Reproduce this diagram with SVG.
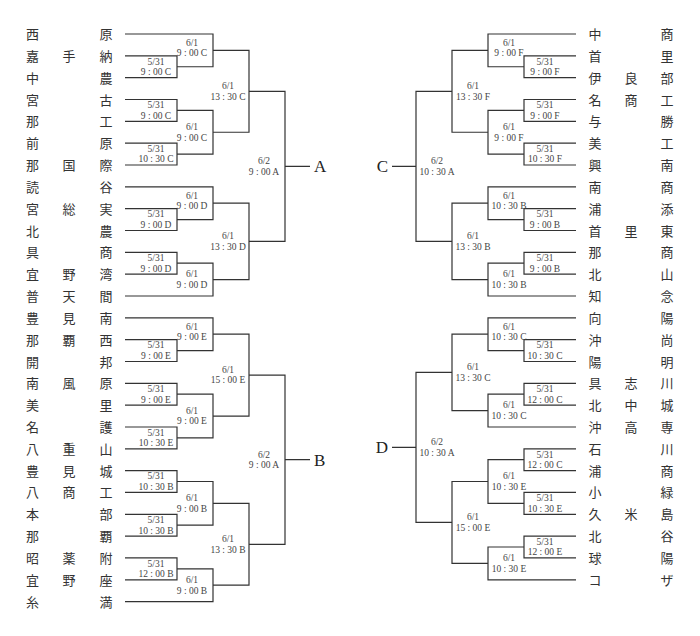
<svg xmlns="http://www.w3.org/2000/svg" width="700" height="636" viewBox="0 0 700 636">
<style>
.bg{fill:#fff}
.ln{fill:none;stroke:#333;stroke-width:1.2}
.nm{font-family:"Noto Sans CJK JP","Noto Sans CJK SC",sans-serif;font-size:13px;fill:#333;text-anchor:middle}
.lb{font-family:"Liberation Serif",serif;font-size:9.5px;fill:#444;text-anchor:middle}
.bk{font-family:"Liberation Serif",serif;font-size:17px;fill:#222}
</style>
<rect class="bg" x="0" y="0" width="700" height="636"/>
<g id="connectors" class="ln">
<path d="M125 55.8H177V77.7H125M125 99.5H177V121.3H125M125 143.2H177V165H125M125 34H213V66.75H177M177 110.4H213V154.1H177M213 50.4H249V132.25H213"/>
<path d="M125 208.6H177V230.5H125M125 252.3H177V274.1H125M125 186.8H213V219.55H177M177 263.2H213V296H125M213 203.2H249V279.6H213"/>
<path d="M249 91.3H285V241.4H249M285 166.35H310"/>
<path d="M125 339.6H177V361.5H125M125 383.3H177V405.1H125M125 427H177V448.8H125M125 317.8H213V350.55H177M177 394.2H213V437.9H177M213 334.2H249V416.05H213"/>
<path d="M125 470.6H177V492.4H125M125 514.3H177V536.1H125M125 557.9H177V579.8H125M177 481.5H213V525.2H177M177 568.85H213V601.6H125M213 503.35H249V585.2H213"/>
<path d="M249 375.1H285V544.3H249M285 459.7H310"/>
<path d="M576 55.8H524V77.7H576M576 99.5H524V121.3H576M576 143.2H524V165H576M576 34H488V66.75H524M524 110.4H488V154.1H524M488 50.4H452V132.25H488"/>
<path d="M576 208.6H524V230.5H576M576 252.3H524V274.1H576M576 186.8H488V219.55H524M524 263.2H488V296H576M488 203.2H452V279.6H488"/>
<path d="M452 91.3H416V241.4H452M416 166.35H392"/>
<path d="M576 339.6H524V361.5H576M576 383.3H524V405.1H576M576 317.8H488V350.55H524M524 394.2H488V427H576M488 334.2H452V410.6H488"/>
<path d="M576 448.8H524V470.6H576M576 492.4H524V514.3H576M576 536.1H524V557.9H576M524 459.7H488V503.35H524M524 547H488V579.8H576M488 481.5H452V563.4H488"/>
<path d="M452 372.4H416V522.45H452M416 447.4H392"/>
</g>
<g id="labels" class="lb">
<text x="156" y="64.5">5/31</text><text x="156" y="75">9 : 00 C</text>
<text x="156" y="108.2">5/31</text><text x="156" y="118.7">9 : 00 C</text>
<text x="156" y="151.9">5/31</text><text x="156" y="162.4">10 : 30 C</text>
<text x="192" y="45.7">6/1</text><text x="192" y="56.2">9 : 00 C</text>
<text x="192" y="130">6/1</text><text x="192" y="140.5">9 : 00 C</text>
<text x="228" y="89.1">6/1</text><text x="228" y="99.6">13 : 30 C</text>
<text x="156" y="217.3">5/31</text><text x="156" y="227.8">9 : 00 D</text>
<text x="156" y="261">5/31</text><text x="156" y="271.5">9 : 00 D</text>
<text x="192" y="198.5">6/1</text><text x="192" y="209">9 : 00 D</text>
<text x="192" y="277.4">6/1</text><text x="192" y="287.9">9 : 00 D</text>
<text x="228" y="239.2">6/1</text><text x="228" y="249.7">13 : 30 D</text>
<text x="264" y="164.1">6/2</text><text x="264" y="174.6">9 : 00 A</text>
<text x="156" y="348.3">5/31</text><text x="156" y="358.8">9 : 00 E</text>
<text x="156" y="392">5/31</text><text x="156" y="402.5">9 : 00 E</text>
<text x="156" y="435.7">5/31</text><text x="156" y="446.2">10 : 30 E</text>
<text x="192" y="329.5">6/1</text><text x="192" y="340">9 : 00 E</text>
<text x="192" y="413.8">6/1</text><text x="192" y="424.3">9 : 00 E</text>
<text x="228" y="372.9">6/1</text><text x="228" y="383.4">15 : 00 E</text>
<text x="156" y="479.3">5/31</text><text x="156" y="489.8">10 : 30 B</text>
<text x="156" y="523">5/31</text><text x="156" y="533.5">10 : 30 B</text>
<text x="156" y="566.6">5/31</text><text x="156" y="577.1">12 : 00 B</text>
<text x="192" y="501.1">6/1</text><text x="192" y="511.6">9 : 00 B</text>
<text x="192" y="583">6/1</text><text x="192" y="593.5">9 : 00 B</text>
<text x="228" y="542.1">6/1</text><text x="228" y="552.6">13 : 30 B</text>
<text x="264" y="457.5">6/2</text><text x="264" y="468">9 : 00 A</text>
<text x="545" y="64.5">5/31</text><text x="545" y="75">9 : 00 F</text>
<text x="545" y="108.2">5/31</text><text x="545" y="118.7">9 : 00 F</text>
<text x="545" y="151.9">5/31</text><text x="545" y="162.4">10 : 30 F</text>
<text x="509" y="45.7">6/1</text><text x="509" y="56.2">9 : 00 F</text>
<text x="509" y="130">6/1</text><text x="509" y="140.5">9 : 00 F</text>
<text x="473" y="89.1">6/1</text><text x="473" y="99.6">13 : 30 F</text>
<text x="545" y="217.3">5/31</text><text x="545" y="227.8">9 : 00 B</text>
<text x="545" y="261">5/31</text><text x="545" y="271.5">9 : 00 B</text>
<text x="509" y="198.5">6/1</text><text x="509" y="209">10 : 30 B</text>
<text x="509" y="277.4">6/1</text><text x="509" y="287.9">10 : 30 B</text>
<text x="473" y="239.2">6/1</text><text x="473" y="249.7">13 : 30 B</text>
<text x="437" y="164.1">6/2</text><text x="437" y="174.6">10 : 30 A</text>
<text x="545" y="348.3">5/31</text><text x="545" y="358.8">10 : 30 C</text>
<text x="545" y="392">5/31</text><text x="545" y="402.5">12 : 00 C</text>
<text x="509" y="329.5">6/1</text><text x="509" y="340">10 : 30 C</text>
<text x="509" y="408.4">6/1</text><text x="509" y="418.9">10 : 30 C</text>
<text x="473" y="370.2">6/1</text><text x="473" y="380.7">13 : 30 C</text>
<text x="545" y="457.5">5/31</text><text x="545" y="468">12 : 00 C</text>
<text x="545" y="501.1">5/31</text><text x="545" y="511.6">10 : 30 E</text>
<text x="545" y="544.8">5/31</text><text x="545" y="555.3">12 : 00 E</text>
<text x="509" y="479.3">6/1</text><text x="509" y="489.8">10 : 30 E</text>
<text x="509" y="561.2">6/1</text><text x="509" y="571.7">10 : 30 E</text>
<text x="473" y="520.3">6/1</text><text x="473" y="530.8">15 : 00 E</text>
<text x="437" y="445.2">6/2</text><text x="437" y="455.7">10 : 30 A</text>
</g>
<g id="blocks" class="bk">
<g id="blockA"><text x="314" y="172.3">A</text></g>
<g id="blockB"><text x="314" y="465.7">B</text></g>
<g id="blockC"><text x="388" y="172.3" text-anchor="end">C</text></g>
<g id="blockD"><text x="388" y="453.4" text-anchor="end">D</text></g>
</g>
<g id="teams-left" class="nm">
<g id="L0"><text x="32.5" y="39">西</text><text x="106" y="39">原</text></g>
<g id="L1"><text x="32.5" y="60.8">嘉</text><text x="69" y="60.8">手</text><text x="106" y="60.8">納</text></g>
<g id="L2"><text x="32.5" y="82.7">中</text><text x="106" y="82.7">農</text></g>
<g id="L3"><text x="32.5" y="104.5">宮</text><text x="106" y="104.5">古</text></g>
<g id="L4"><text x="32.5" y="126.3">那</text><text x="106" y="126.3">工</text></g>
<g id="L5"><text x="32.5" y="148.2">前</text><text x="106" y="148.2">原</text></g>
<g id="L6"><text x="32.5" y="170">那</text><text x="69" y="170">国</text><text x="106" y="170">際</text></g>
<g id="L7"><text x="32.5" y="191.8">読</text><text x="106" y="191.8">谷</text></g>
<g id="L8"><text x="32.5" y="213.6">宮</text><text x="69" y="213.6">総</text><text x="106" y="213.6">実</text></g>
<g id="L9"><text x="32.5" y="235.5">北</text><text x="106" y="235.5">農</text></g>
<g id="L10"><text x="32.5" y="257.3">具</text><text x="106" y="257.3">商</text></g>
<g id="L11"><text x="32.5" y="279.1">宜</text><text x="69" y="279.1">野</text><text x="106" y="279.1">湾</text></g>
<g id="L12"><text x="32.5" y="301">普</text><text x="69" y="301">天</text><text x="106" y="301">間</text></g>
<g id="L13"><text x="32.5" y="322.8">豊</text><text x="69" y="322.8">見</text><text x="106" y="322.8">南</text></g>
<g id="L14"><text x="32.5" y="344.6">那</text><text x="69" y="344.6">覇</text><text x="106" y="344.6">西</text></g>
<g id="L15"><text x="32.5" y="366.5">開</text><text x="106" y="366.5">邦</text></g>
<g id="L16"><text x="32.5" y="388.3">南</text><text x="69" y="388.3">風</text><text x="106" y="388.3">原</text></g>
<g id="L17"><text x="32.5" y="410.1">美</text><text x="106" y="410.1">里</text></g>
<g id="L18"><text x="32.5" y="432">名</text><text x="106" y="432">護</text></g>
<g id="L19"><text x="32.5" y="453.8">八</text><text x="69" y="453.8">重</text><text x="106" y="453.8">山</text></g>
<g id="L20"><text x="32.5" y="475.6">豊</text><text x="69" y="475.6">見</text><text x="106" y="475.6">城</text></g>
<g id="L21"><text x="32.5" y="497.4">八</text><text x="69" y="497.4">商</text><text x="106" y="497.4">工</text></g>
<g id="L22"><text x="32.5" y="519.3">本</text><text x="106" y="519.3">部</text></g>
<g id="L23"><text x="32.5" y="541.1">那</text><text x="106" y="541.1">覇</text></g>
<g id="L24"><text x="32.5" y="562.9">昭</text><text x="69" y="562.9">薬</text><text x="106" y="562.9">附</text></g>
<g id="L25"><text x="32.5" y="584.8">宜</text><text x="69" y="584.8">野</text><text x="106" y="584.8">座</text></g>
<g id="L26"><text x="32.5" y="606.6">糸</text><text x="106" y="606.6">満</text></g>
</g>
<g id="teams-right" class="nm">
<g id="R0"><text x="595" y="39">中</text><text x="667" y="39">商</text></g>
<g id="R1"><text x="595" y="60.8">首</text><text x="667" y="60.8">里</text></g>
<g id="R2"><text x="595" y="82.7">伊</text><text x="631" y="82.7">良</text><text x="667" y="82.7">部</text></g>
<g id="R3"><text x="595" y="104.5">名</text><text x="631" y="104.5">商</text><text x="667" y="104.5">工</text></g>
<g id="R4"><text x="595" y="126.3">与</text><text x="667" y="126.3">勝</text></g>
<g id="R5"><text x="595" y="148.2">美</text><text x="667" y="148.2">工</text></g>
<g id="R6"><text x="595" y="170">興</text><text x="667" y="170">南</text></g>
<g id="R7"><text x="595" y="191.8">南</text><text x="667" y="191.8">商</text></g>
<g id="R8"><text x="595" y="213.6">浦</text><text x="667" y="213.6">添</text></g>
<g id="R9"><text x="595" y="235.5">首</text><text x="631" y="235.5">里</text><text x="667" y="235.5">東</text></g>
<g id="R10"><text x="595" y="257.3">那</text><text x="667" y="257.3">商</text></g>
<g id="R11"><text x="595" y="279.1">北</text><text x="667" y="279.1">山</text></g>
<g id="R12"><text x="595" y="301">知</text><text x="667" y="301">念</text></g>
<g id="R13"><text x="595" y="322.8">向</text><text x="667" y="322.8">陽</text></g>
<g id="R14"><text x="595" y="344.6">沖</text><text x="667" y="344.6">尚</text></g>
<g id="R15"><text x="595" y="366.5">陽</text><text x="667" y="366.5">明</text></g>
<g id="R16"><text x="595" y="388.3">具</text><text x="631" y="388.3">志</text><text x="667" y="388.3">川</text></g>
<g id="R17"><text x="595" y="410.1">北</text><text x="631" y="410.1">中</text><text x="667" y="410.1">城</text></g>
<g id="R18"><text x="595" y="432">沖</text><text x="631" y="432">高</text><text x="667" y="432">専</text></g>
<g id="R19"><text x="595" y="453.8">石</text><text x="667" y="453.8">川</text></g>
<g id="R20"><text x="595" y="475.6">浦</text><text x="667" y="475.6">商</text></g>
<g id="R21"><text x="595" y="497.4">小</text><text x="667" y="497.4">緑</text></g>
<g id="R22"><text x="595" y="519.3">久</text><text x="631" y="519.3">米</text><text x="667" y="519.3">島</text></g>
<g id="R23"><text x="595" y="541.1">北</text><text x="667" y="541.1">谷</text></g>
<g id="R24"><text x="595" y="562.9">球</text><text x="667" y="562.9">陽</text></g>
<g id="R25"><text x="595" y="584.8">コ</text><text x="667" y="584.8">ザ</text></g>
</g>
</svg>
